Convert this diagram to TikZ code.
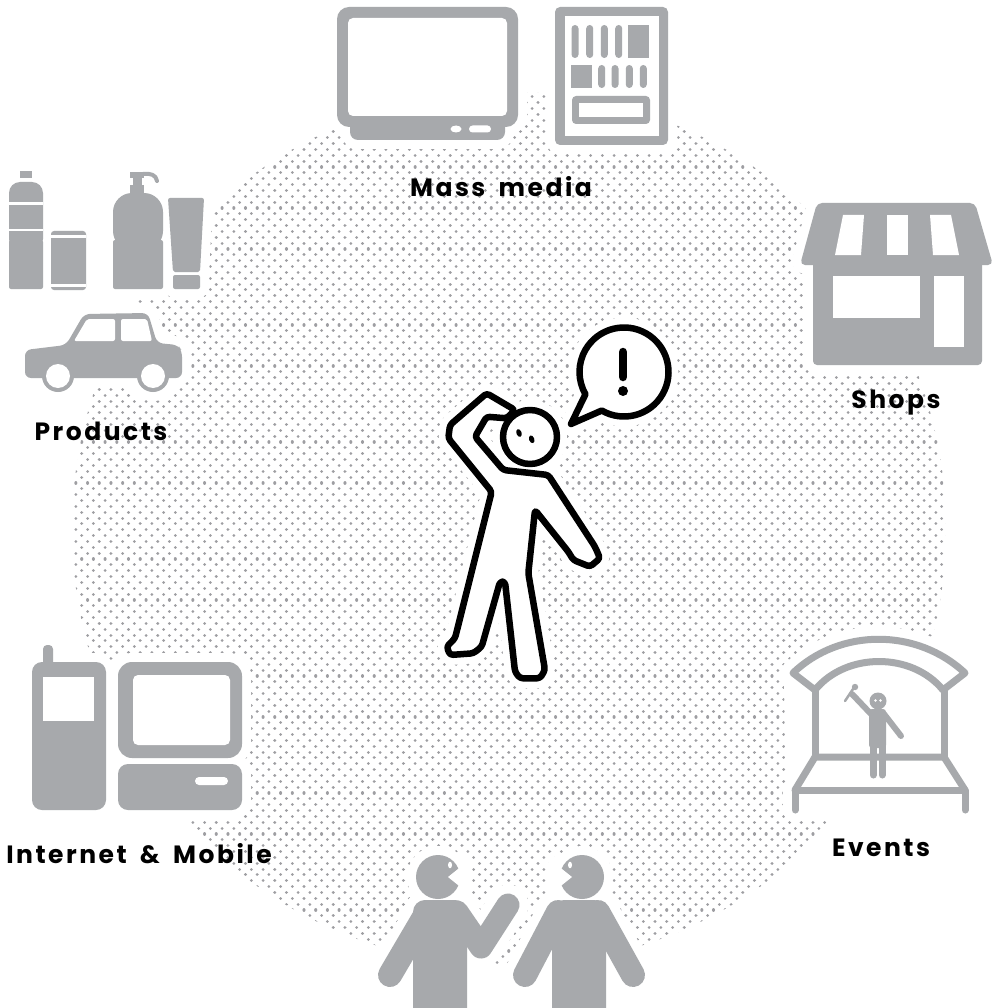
\documentclass[tikz,border=0pt]{standalone}
\usepackage{fontspec}
\setmainfont{Poppins}[LetterSpace=10,WordSpace=1.7]

\definecolor{icongray}{RGB}{167,169,172}
\definecolor{dotgray}{RGB}{158,158,162}

\tikzset{
  part/.style={fill=icongray},
  hole/.style={fill=white},
  wire/.style={draw=icongray,line width=7pt,line cap=round,line join=round},
  limb/.style={draw=icongray,line width=#1,line cap=round,line join=round},
  inked/.style={draw=black,fill=white,line width=6.5pt,line join=round,line cap=round},
  caption/.style={font=\bfseries\fontsize{25}{30}\selectfont,anchor=base},
  dotrow/.style={draw=dotgray,line width=3.1pt,line cap=round},
}

% draw an icon twice: fattened in white first (clears the dots), then for real
\newcommand\haloicon[1]{%
  \begin{scope}[part/.style={draw=white,fill=white,line width=18pt,line join=round},
                hole/.style={part},
                wire/.style={draw=white,line width=25pt,line cap=round,line join=round},
                limb/.style={draw=white,line width=##1+18pt,line cap=round,line join=round},
                inked/.style={draw=white,fill=white,line width=20pt,line join=round}]
    #1
  \end{scope}
  #1}

\begin{document}
\begin{tikzpicture}[x=1pt,y=-1pt]

\useasboundingbox (0,0) rectangle (1002,1008);
\fill[white] (0,0) rectangle (1002,1008);

% dotted disc, staggered rows (each dot is a tiny round-capped stroke)
\begin{scope}
  \clip (509,529) circle (437);
  \foreach \row [evaluate=\row as \xoff using {70+mod(\row,2)*5.85}] in {0,...,151}
    \draw[dotrow] \foreach \col in {0,...,75} { ({\xoff+\col*11.7}, {91+\row*5.85}) -- ++(0.01,0) };
\end{scope}

% mass media: tv and newspaper
\haloicon{
  \fill[part, rounded corners=8pt] (350,110) rectangle (505,140);
  \fill[part, rounded corners=12pt] (337,7) rectangle (518,127);
  \fill[hole, rounded corners=5pt] (348,18) rectangle (507,116);
  \fill[hole] (456,129) ellipse (5.5 and 3.5);
  \fill[hole, rounded corners=3.5pt] (469,125.5) rectangle (491,132.5);
  \fill[part, rounded corners=5pt] (555,7) rectangle (668,145);
  \fill[hole] (565,16) rectangle (659,136);
  \foreach \x in {575,589.7,604.3,618.7}
    \fill[part, rounded corners=3.5pt] (\x-3.5,25) rectangle (\x+3.5,58);
  \fill[part] (628,25) rectangle (649,58);
  \fill[part] (571,65) rectangle (592,88);
  \foreach \x in {601.7,615,629.3,643.3}
    \fill[part, rounded corners=3.5pt] (\x-3.5,65) rectangle (\x+3.5,88);
  \fill[part, rounded corners=4pt] (572,96) rectangle (650,124);
  \fill[hole] (579,103) rectangle (643,117);
}

% products: bottles, tube, car
\haloicon{
  \fill[part] (20,171) rectangle (32,178);
  \fill[part, rounded corners=11pt] (9,250) -- (9,182) -- (43,182) -- (43,250) -- cycle;
  \fill[part, rounded corners=2pt] (9,240) rectangle (43,289);
  \fill[hole] (9,202.5) rectangle (43,205);
  \fill[hole] (9,229) rectangle (43,231.5);
  \fill[part, rounded corners=3pt] (51,231) rectangle (86,290);
  \fill[hole] (51,235) rectangle (86,237.5);
  \fill[hole] (51,284) rectangle (86,286.5);
  \fill[part] (130,172) rectangle (144,178);
  \draw[limb=4pt] (143,174) .. controls (151,173) and (156,175) .. (157,181);
  \fill[part] (133,177) rectangle (142,186);
  \fill[part] (130,185) rectangle (144,193);
  \fill[part, rounded corners=19pt] (113,250) -- (113,193) -- (163,193) -- (163,250) -- cycle;
  \fill[part, rounded corners=2pt] (113,240) rectangle (163,289);
  \fill[part, rounded corners=2pt] (168,198) -- (204,198) -- (200,272) -- (173,272) -- cycle;
  \fill[part, rounded corners=2pt] (173,275) rectangle (200,289);
  \fill[part, rounded corners=6pt] (25,378) -- (25,350) -- (66,345) -- (84,314) -- (148,313)
    -- (157,343) -- (178,345) -- (182,351) -- (182,378) -- cycle;
  \fill[part] (58,376) circle (16);
  \fill[part] (153,376) circle (16);
  \fill[hole] (58,376) circle (12);
  \fill[hole] (153,376) circle (12);
  \fill[hole, rounded corners=2pt] (74,341) -- (87,319) -- (115,319) -- (115,341) -- cycle;
  \fill[hole, rounded corners=2pt] (121,319) -- (147,319) -- (152,341) -- (121,341) -- cycle;
}

% shops
\haloicon{
  \fill[part, rounded corners=4pt] (813,258) rectangle (982,365);
  \fill[part, rounded corners=5pt] (817,203) -- (975,203) -- (993,265) -- (800,265) -- cycle;
  \fill[hole] (843,215) -- (864,215) -- (861,255) -- (835,255) -- cycle;
  \fill[hole] (887,215) -- (908,215) -- (908,255) -- (887,255) -- cycle;
  \fill[hole] (930,215) -- (951,215) -- (959,255) -- (933,255) -- cycle;
  \fill[hole] (833,276) rectangle (920,318);
  \fill[hole] (934,276) rectangle (964,347);
}

% internet and mobile
\haloicon{
  \fill[part, rounded corners=4pt] (43,645) rectangle (53,670);
  \fill[part, rounded corners=10pt] (32,662) rectangle (106,810);
  \fill[hole] (43,677) rectangle (94,721);
  \fill[part, rounded corners=14pt] (118,662) rectangle (242,758);
  \fill[hole, rounded corners=5pt] (133,675) rectangle (230,745);
  \fill[part, rounded corners=10pt] (118,764) rectangle (242,810);
  \fill[hole, rounded corners=4pt] (195,777) rectangle (228,785);
}

% events: stage with singer
\haloicon{
  \fill[hole] (793,673) .. controls (840,628) and (917,628) .. (965,673) -- (965,810) -- (795,810) -- cycle;
  \draw[wire] (793,673) .. controls (840,628) and (917,628) .. (965,673)
    -- (943,690) .. controls (912,652) and (846,652) .. (815,690) -- cycle;
  \draw[wire] (815,690) -- (815,757);
  \draw[wire] (944,690) -- (944,757);
  \draw[wire] (795,810) -- (795,790) -- (965,790) -- (965,810);
  \draw[wire] (795,790) -- (815,757) -- (944,757) -- (965,790);
  \draw[limb=7pt] (873.3,745) -- (873.3,775);
  \draw[limb=7pt] (882.2,745) -- (882.2,775);
  \fill[part, rounded corners=3pt] (869,709) rectangle (886,748);
  \draw[limb=6pt] (884,714) -- (901,736);
  \draw[limb=6pt] (871,714) -- (852,694);
  \draw[limb=2.5pt] (845,701) -- (853,689);
  \fill[part] (855,687) circle (3.2);
  \fill[part] (878,701) circle (8.5);
  \fill[hole] (875.5,700.5) circle (1.3);
  \fill[hole] (880.5,700.5) circle (1.3);
}

% word of mouth: two people talking
\haloicon{
  \draw[limb=24pt] (427,912) -- (390,975);
  \draw[limb=23pt] (457,912) -- (481,947) -- (508,905);
  \fill[part, rounded corners=12pt] (413,900) rectangle (467,1030);
  \fill[part] (438,877) circle (22);
  \fill[hole] (448,877) -- (463,865) -- (463,889) -- cycle;
  \fill[hole] (450,865) ellipse (2 and 3.3);
  \draw[limb=24pt] (558,912) -- (525,975);
  \draw[limb=24pt] (598,912) -- (633,975);
  \fill[part, rounded corners=12pt] (552,900) rectangle (606,1030);
  \fill[part] (582,877) circle (22);
  \fill[hole] (572,877) -- (557,865) -- (557,889) -- cycle;
  \fill[hole] (570,865) ellipse (2 and 3.3);
}

% consumer in the middle
\haloicon{
  \draw[inked] (530,437) circle (27);
  \draw[inked, rounded corners=3pt] (515,410) -- (486.7,393.3) -- (450,425) -- (448.3,438.3)
    -- (491.7,491.7) -- (455,638.3) -- (446.7,646.7) -- (450,655) -- (473.3,653.3)
    -- (481.7,646.7) -- (500,581.7) -- (505,581.7) -- (515,671.7) -- (520,678.3)
    -- (540,678.3) -- (545,670) -- (528.3,573.3) -- (535,510) -- (568.3,551.7)
    -- (573.3,560) -- (590,566.7) -- (600,558.3) -- (595,546.7) -- (548.3,475)
    -- (503.3,470) -- (475,436.7) -- (486.7,416.7) -- (506.7,418.3) -- cycle;
  \fill[rotate around={20:(519,433)}] (519,433) ellipse (2.6 and 4);
  \fill[rotate around={20:(531.7,439.3)}] (531.7,439.3) ellipse (2.6 and 4);
  \coordinate (bub) at (624,372);
  \draw[inked] ([shift={(120:44.5)}]bub) arc[start angle=120, end angle=-210, radius=44.5]
    -- (571,424) -- cycle;
  \draw[line width=8.5pt, line cap=round] (623,352) -- (623,377);
  \fill (623,391) circle (5);
}

% channel names
\node[caption] (media)    at (501,196.7) {Mass media};
\node[caption] (products) at (101,440.7) {Products};
\node[caption] (shops)    at (896,408)   {Shops};
\node[caption] (web)      at (139,863.5) {Internet \& Mobile};
\node[caption] (events)   at (881,856.7) {Events};

\end{tikzpicture}
\end{document}
